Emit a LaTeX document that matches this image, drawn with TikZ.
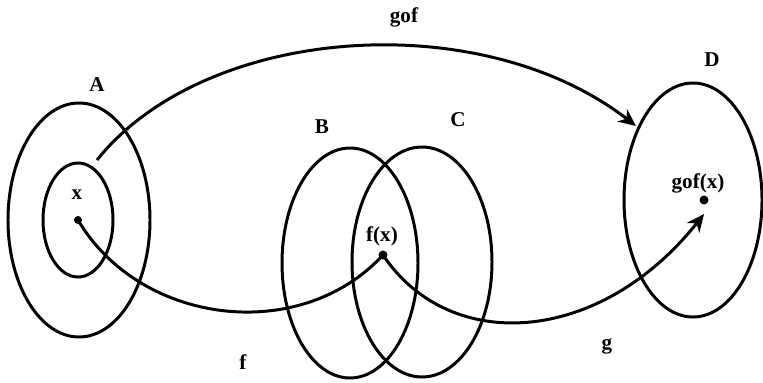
\documentclass[tikz,border=0pt]{standalone}
\usepackage{fontspec}
\setmainfont{Liberation Serif}
\usetikzlibrary{arrows.meta}
\begin{document}
\begin{tikzpicture}[x=0.02cm, y=-0.02cm, line width=1.7pt,
    maparrow/.style={-{Stealth[length=10pt,width=9pt]}},
    lbl/.style={font=\bfseries\large, inner sep=1pt}]
    \useasboundingbox (0,0) rectangle (763,382);

    % Sets A (with inner set), B, C, D
    \draw (79,220) ellipse [x radius=71, y radius=117];
    \draw (78,220) ellipse [x radius=35, y radius=57];
    \draw (350,263) ellipse [x radius=68, y radius=115];
    \draw (422,262) ellipse [x radius=70, y radius=115];
    \draw (693,200) ellipse [x radius=69, y radius=117];

    % Labels for sets
    \node[lbl] (labA) at (97,85) {A};
    \node[lbl] (labB) at (322,127) {B};
    \node[lbl] (labC) at (458,120) {C};
    \node[lbl] (labD) at (712,60) {D};

    % Points x, f(x), gof(x)
    \coordinate (x) at (78,220);
    \coordinate (fx) at (383,255);
    \coordinate (gfx) at (704,200);
    \fill (x) circle (4);
    \fill (fx) circle (4.5);
    \fill (gfx) circle (4.5);
    \node[lbl] (labx) at (77,195) {x};
    \node[lbl] (labfx) at (382,236) {f(x)};
    \node[lbl] (labgfx) at (698,183) {gof(x)};

    % Maps f, g and gof
    \coordinate (gofstart) at (97,160);
    \coordinate (gofend) at (636,126);
    \draw (x) .. controls (140,325) and (300,345) .. (fx);
    \draw[maparrow] (fx) .. controls (450,355) and (600,345) .. ([yshift=-8pt]gfx);
    \draw[maparrow] (gofstart) .. controls (205,25) and (480,5) .. (gofend);
    \node[lbl] (labf) at (243,362) {f};
    \node[lbl] (labg) at (607,346) {g};
    \node[lbl] (labgof) at (404,17) {gof};
\end{tikzpicture}
\end{document}
